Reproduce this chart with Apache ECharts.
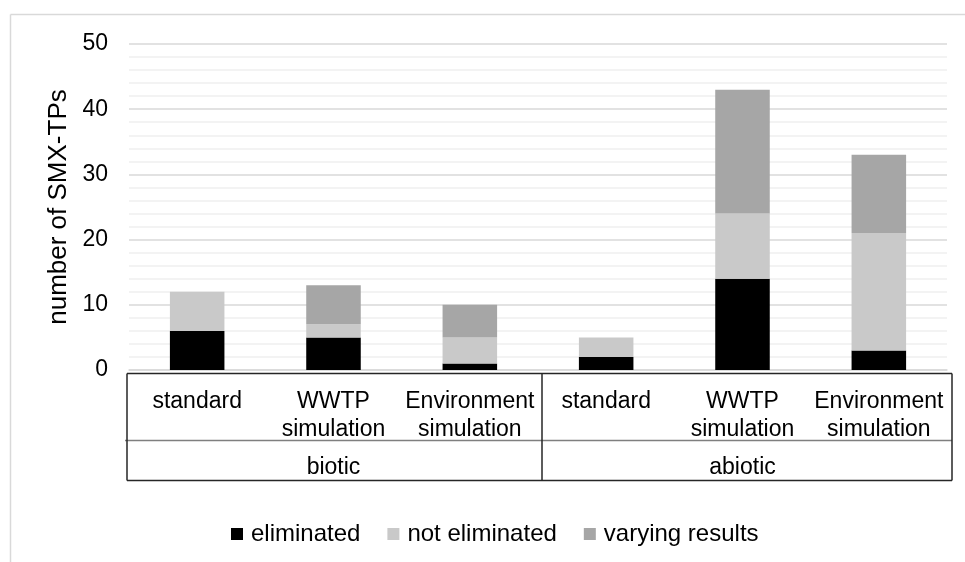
<!DOCTYPE html>
<html>
<head>
<meta charset="utf-8">
<script src="https://cdn.jsdelivr.net/npm/echarts@6/dist/echarts.min.js"></script>
<style>
  html, body { margin: 0; padding: 0; background: #fff; }
  #chart { width: 965px; height: 562px; }
</style>
</head>
<body>
<div id="chart"></div>
<script>
// Treatment conditions (inner category row) and their groups (outer row)
const categories = ['standard', 'WWTP\nsimulation', 'Environment\nsimulation',
                    'standard', 'WWTP\nsimulation', 'Environment\nsimulation'];
const groups = ['biotic', 'abiotic'];

// Number of SMX transformation products per outcome
const eliminated    = [6, 5, 1, 2, 14, 3];
const notEliminated = [6, 2, 4, 3, 10, 18];
const varying       = [0, 6, 5, 0, 19, 12];

const yTicks = { min: 0, max: 50, interval: 10 };

// Layout
const W = 965, H = 562;
const GRID = { left: 129, right: 18, top: 44, bottom: 192 };
const FONT = 'Liberation Sans, Arial, sans-serif';
const FS = 23;

const plotBottom = H - GRID.bottom;
const tbl = {
  left: GRID.left - 2,
  right: W - GRID.right + 5,
  top: plotBottom + 3.5,
  mid: plotBottom + 70.5,
  bottom: plotBottom + 110.5
};
const plotWidth = W - GRID.left - GRID.right;
const divider = GRID.left + plotWidth / 2 + 4;

const chart = echarts.init(document.getElementById('chart'), null, { renderer: 'canvas' });

const seriesDefs = [
  { name: 'eliminated', data: eliminated, color: '#000000' },
  { name: 'not eliminated', data: notEliminated, color: '#c9c9c9' },
  { name: 'varying results', data: varying, color: '#a6a6a6' }
];

function line(x1, y1, x2, y2, color, width) {
  return {
    type: 'line',
    shape: { x1, y1, x2, y2 },
    style: { stroke: color, lineWidth: width },
    silent: true
  };
}

chart.setOption({
  animation: false,
  backgroundColor: '#ffffff',
  textStyle: { fontFamily: FONT },
  grid: { left: GRID.left, right: GRID.right, top: GRID.top, bottom: GRID.bottom, containLabel: false },
  legend: {
    data: seriesDefs.map(s => s.name),
    bottom: 11,
    left: 226,
    icon: 'rect',
    itemWidth: 12,
    itemHeight: 12,
    itemGap: 27,
    textStyle: { fontFamily: FONT, fontSize: 24, color: '#000', padding: [0, 0, 0, 3] }
  },
  xAxis: [
    {
      type: 'category',
      data: categories,
      axisLine: { show: true, lineStyle: { color: '#d9d9d9', width: 1.5 } },
      axisTick: { show: false },
      splitLine: { show: false },
      axisLabel: {
        interval: 0,
        margin: 18,
        fontFamily: FONT,
        fontSize: FS,
        lineHeight: 28,
        color: '#000',
        verticalAlign: 'top',
        align: 'center'
      }
    },
    {
      type: 'category',
      data: groups,
      position: 'bottom',
      axisLine: { show: false },
      axisTick: { show: false },
      splitLine: { show: false },
      axisLabel: {
        interval: 0,
        margin: 86,
        fontFamily: FONT,
        fontSize: FS,
        color: '#000',
        verticalAlign: 'top'
      }
    }
  ],
  yAxis: {
    type: 'value',
    min: yTicks.min,
    max: yTicks.max,
    interval: yTicks.interval,
    name: 'number of SMX-TPs',
    nameLocation: 'middle',
    nameGap: 56,
    nameTextStyle: { fontFamily: FONT, fontSize: 26, color: '#000' },
    axisLine: { show: false },
    axisTick: { show: false },
    axisLabel: { margin: 21, fontFamily: FONT, fontSize: FS, color: '#000' },
    splitLine: { show: true, lineStyle: { color: '#d9d9d9', width: 1.5 } },
    minorTick: { show: false, splitNumber: 5 },
    minorSplitLine: { show: true, lineStyle: { color: '#f0f0f0', width: 1.5 } }
  },
  series: seriesDefs.map(s => ({
    name: s.name,
    type: 'bar',
    stack: 'total',
    barWidth: '40%',
    data: s.data,
    itemStyle: { color: s.color },
    emphasis: { disabled: true }
  })),
  graphic: [
    // chart area frame
    line(10.5, 14.5, W, 14.5, '#d9d9d9', 1.5),
    line(10.5, 14.5, 10.5, H, '#d9d9d9', 1.5),
    // category table below the plot
    line(tbl.left, tbl.top, tbl.right, tbl.top, '#262626', 1.5),
    line(tbl.left - 2, tbl.mid, tbl.right, tbl.mid, '#7f7f7f', 1.5),
    line(tbl.left, tbl.bottom, tbl.right, tbl.bottom, '#262626', 1.5),
    line(tbl.left, tbl.top, tbl.left, tbl.bottom, '#262626', 1.5),
    line(divider, tbl.top, divider, tbl.bottom, '#262626', 1.5),
    line(tbl.right, tbl.top, tbl.right, tbl.bottom, '#262626', 1.5)
  ]
});
</script>
</body>
</html>
